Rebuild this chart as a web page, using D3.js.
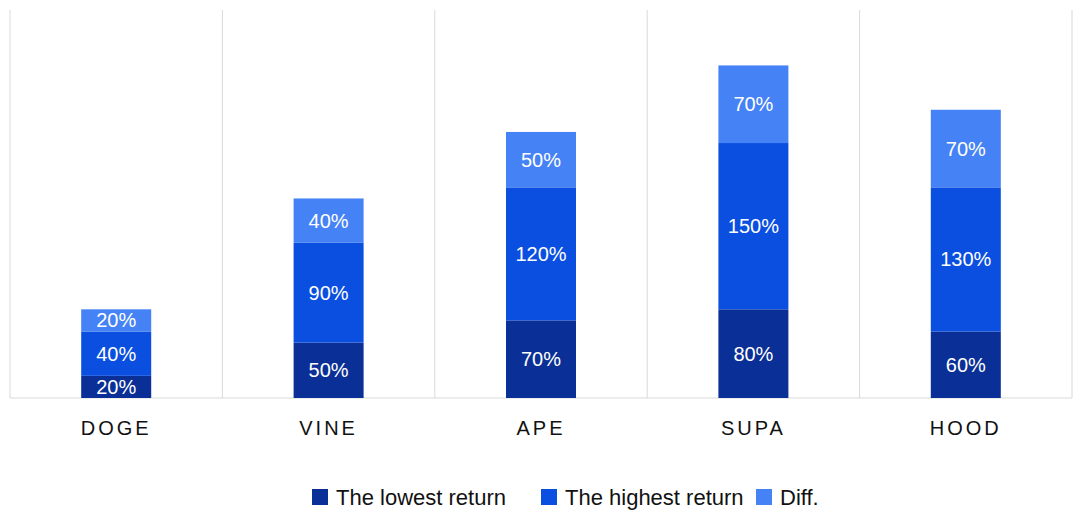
<!DOCTYPE html><html><head><meta charset="utf-8"><script src="https://d3js.org/d3.v7.min.js"></script>
<style>body{margin:0;background:#fff}</style></head><body><svg id="c" width="1080" height="524"></svg><script>
const categories=["DOGE","VINE","APE","SUPA","HOOD"];
const lowest=[20,50,70,80,60];
const highest=[40,90,120,150,130];
const diff=[20,40,50,70,70];
const seriesNames=["The lowest return","The highest return","Diff."];
const colors=["#0a2f96","#0a4fe0","#4582f5"];
const svg=d3.select("#c");
const m={l:10,r:8,t:10,b:126};
const W=1080,H=524;
const x=d3.scaleBand().domain(categories).range([m.l,W-m.r]).paddingInner(0).paddingOuter(0);
const y=d3.scaleLinear().domain([0,350]).range([H-m.b,m.t]);
const g=svg.append("g");
// gridlines at band boundaries
const bounds=categories.map(c=>x(c)).concat([x(categories[categories.length-1])+x.bandwidth()]);
g.selectAll("line.v").data(bounds).join("line").attr("x1",d=>d).attr("x2",d=>d).attr("y1",m.t).attr("y2",y(0)).attr("stroke","#d9d9d9");
g.append("line").attr("x1",m.l).attr("x2",W-m.r).attr("y1",y(0)).attr("y2",y(0)).attr("stroke","#d9d9d9");
const data=categories.map((c,i)=>({cat:c,s0:lowest[i],s1:highest[i],s2:diff[i]}));
const stack=d3.stack().keys(["s0","s1","s2"])(data);
const bw=70;
stack.forEach((layer,li)=>{
 const gl=g.append("g");
 gl.selectAll("rect").data(layer).join("rect")
  .attr("x",d=>x(d.data.cat)+x.bandwidth()/2-bw/2).attr("width",bw)
  .attr("y",d=>y(d[1])).attr("height",d=>y(d[0])-y(d[1])).attr("fill",colors[li]);
 gl.selectAll("text").data(layer).join("text")
  .attr("x",d=>x(d.data.cat)+x.bandwidth()/2).attr("y",d=>(y(d[0])+y(d[1]))/2)
  .attr("dy","0.35em").attr("text-anchor","middle").attr("fill","#fff")
  .attr("font-family","Liberation Sans, Arial, sans-serif").attr("font-size",20)
  .text(d=>(d[1]-d[0])+"%");
});
g.selectAll("text.cat").data(categories).join("text").attr("class","cat")
 .attr("x",d=>x(d)+x.bandwidth()/2).attr("y",y(0)+37).attr("text-anchor","middle")
 .attr("font-family","Liberation Sans, Arial, sans-serif").attr("font-size",20).attr("letter-spacing","3px").attr("fill","#111")
 .text(d=>d);
// legend
const leg=svg.append("g");
const lx=[312,541,756];
seriesNames.forEach((n,i)=>{
 leg.append("rect").attr("x",lx[i]).attr("y",489).attr("width",16).attr("height",16).attr("fill",colors[i]);
 leg.append("text").attr("x",lx[i]+24).attr("y",505).attr("font-family","Liberation Sans, Arial, sans-serif").attr("font-size",22).attr("fill","#111").text(n);
});
</script></body></html>
